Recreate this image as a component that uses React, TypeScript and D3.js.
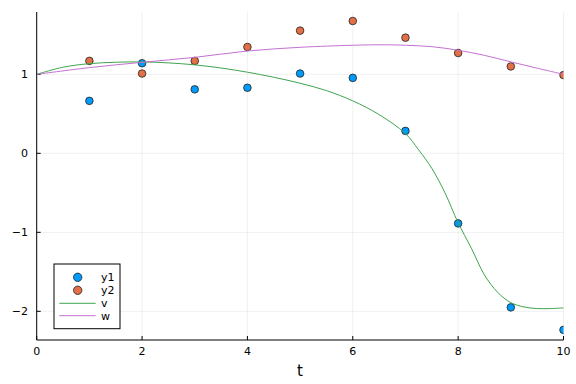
import React from "react";
import * as d3 from "d3";

const tPoints = [1, 2, 3, 4, 5, 6, 7, 8, 9, 10];
const y1Values = [0.664, 1.14, 0.81, 0.83, 1.01, 0.955, 0.284, -0.887, -1.95, -2.235];
const y2Values = [1.17, 1.01, 1.17, 1.346, 1.553, 1.675, 1.464, 1.27, 1.1, 0.99];

const vT = [0, 0.5, 1, 1.5, 2, 2.5, 3, 3.5, 4, 4.5, 5, 5.5, 6, 6.5, 7, 7.25, 7.5, 7.75, 8, 8.25, 8.5, 8.75, 9, 9.25, 9.5, 9.75, 10];
const vValues = [1.0, 1.09, 1.135, 1.153, 1.157, 1.145, 1.12, 1.08, 1.027, 0.963, 0.887, 0.794, 0.664, 0.49, 0.25, 0.044, -0.19, -0.5, -0.88, -1.2, -1.54, -1.76, -1.89, -1.945, -1.965, -1.965, -1.957];

const wT = [0, 1, 2, 3, 4, 5, 6, 6.6, 7, 7.5, 8, 8.5, 9, 9.5, 10];
const wValues = [1.0, 1.085, 1.152, 1.215, 1.295, 1.342, 1.368, 1.374, 1.368, 1.35, 1.305, 1.24, 1.158, 1.078, 1.0];

const xTicks = [0, 2, 4, 6, 8, 10];
const yTicks = [-2, -1, 0, 1];

const legendNames = ["y1", "y2", "v", "w"];

const BLUE = "#009AFA";
const ORANGE = "#E36F47";
const GREEN = "#3EA44E";
const PURPLE = "#C371D2";

export default function App() {
  const W = 576, H = 384;
  const left = 36.7, right = 563.5, top = 12, bottom = 340;
  const x = d3.scaleLinear().domain([0, 10]).range([left, right]);
  const y = d3.scaleLinear().domain([-2.363, 1.789]).range([bottom, top]);
  const font = "DejaVu Sans, sans-serif";
  const fmt = (v: number) => (v < 0 ? "\u2212" + Math.abs(v) : String(v));

  const line = d3
    .line<[number, number]>()
    .x((d) => x(d[0]))
    .y((d) => y(d[1]))
    .curve(d3.curveCatmullRom.alpha(0.5));

  const vData: [number, number][] = vT.map((t, i) => [t, vValues[i]]);
  const wData: [number, number][] = wT.map((t, i) => [t, wValues[i]]);

  const legX = 54, legY = 264, legW = 66, legH = 64.7;
  const rowY = [277.3, 290.3, 303.3, 315.7];

  return (
    <svg width={W} height={H} style={{ position: "absolute", left: 0, top: 0 }} xmlns="http://www.w3.org/2000/svg">
      <rect x={0} y={0} width={W} height={H} fill="#fff" />
      <defs>
        <clipPath id="plotclip">
          <rect x={left} y={top} width={right - left} height={bottom - top} />
        </clipPath>
      </defs>
      {/* grid */}
      {xTicks.map((t) => (
        <line key={"gx" + t} x1={x(t)} x2={x(t)} y1={top} y2={bottom} stroke="#000" strokeOpacity={0.1} strokeWidth={0.6} />
      ))}
      {yTicks.map((t) => (
        <line key={"gy" + t} x1={left} x2={right} y1={y(t)} y2={y(t)} stroke="#000" strokeOpacity={0.1} strokeWidth={0.6} />
      ))}
      {/* axes */}
      <line x1={left} x2={left} y1={top} y2={bottom} stroke="#000" strokeWidth={1} />
      <line x1={left} x2={right} y1={bottom} y2={bottom} stroke="#000" strokeWidth={1} />
      {xTicks.map((t) => (
        <g key={"xt" + t}>
          <line x1={x(t)} x2={x(t)} y1={bottom} y2={bottom - 4} stroke="#000" strokeWidth={1} />
          <text x={x(t)} y={355} fontSize={11} fontFamily={font} textAnchor="middle" fill="#000">
            {fmt(t)}
          </text>
        </g>
      ))}
      {yTicks.map((t) => (
        <g key={"yt" + t}>
          <line x1={left} x2={left + 4} y1={y(t)} y2={y(t)} stroke="#000" strokeWidth={1} />
          <text x={28} y={y(t) + 4} fontSize={11} fontFamily={font} textAnchor="end" fill="#000">
            {fmt(t)}
          </text>
        </g>
      ))}
      <text x={300} y={376} fontSize={15} fontFamily={font} textAnchor="middle" fill="#000">
        t
      </text>
      {/* scatter */}
      <g clipPath="url(#plotclip)">
        {tPoints.map((t, i) => (
          <circle key={"a" + i} cx={x(t)} cy={y(y1Values[i])} r={3.8} fill={BLUE} stroke="#222" strokeWidth={0.8} />
        ))}
        {tPoints.map((t, i) => (
          <circle key={"b" + i} cx={x(t)} cy={y(y2Values[i])} r={3.8} fill={ORANGE} stroke="#222" strokeWidth={0.8} />
        ))}
        <path d={line(vData) || ""} fill="none" stroke={GREEN} strokeWidth={1} />
        <path d={line(wData) || ""} fill="none" stroke={PURPLE} strokeWidth={1} />
      </g>
      {/* legend */}
      <rect x={legX} y={legY} width={legW} height={legH} fill="#fff" stroke="#000" strokeWidth={1} />
      <circle cx={77.7} cy={rowY[0]} r={4.2} fill={BLUE} stroke="#222" strokeWidth={0.8} />
      <circle cx={77.7} cy={rowY[1]} r={4.2} fill={ORANGE} stroke="#222" strokeWidth={0.8} />
      <line x1={59.3} x2={95.7} y1={rowY[2]} y2={rowY[2]} stroke={GREEN} strokeWidth={1} />
      <line x1={59.3} x2={95.7} y1={rowY[3]} y2={rowY[3]} stroke={PURPLE} strokeWidth={1} />
      {legendNames.map((n, i) => (
        <text key={n} x={101} y={rowY[i] + 4} fontSize={11} fontFamily={font} fill="#000">
          {n}
        </text>
      ))}
    </svg>
  );
}
